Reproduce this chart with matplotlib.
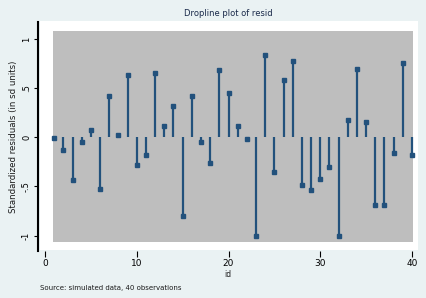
import matplotlib
matplotlib.use("Agg")
import matplotlib.pyplot as plt
from matplotlib.patches import Rectangle

# Data
t = list(range(1, 41))
values = [-0.01, -0.13, -0.43, -0.05, 0.08, -0.53, 0.42, 0.03, 0.64, -0.28,
          -0.18, 0.66, 0.12, 0.32, -0.80, 0.42, -0.05, -0.26, 0.69, 0.45,
          0.12, -0.02, -1.01, 0.84, -0.35, 0.59, 0.78, -0.48, -0.54, -0.42,
          -0.30, -1.00, 0.18, 0.70, 0.16, -0.69, -0.69, -0.16, 0.76, -0.18]
xticks = [0, 10, 20, 30, 40]
yticks = [-1, -0.5, 0, 0.5, 1]
yticklabels = ["-1", "-.5", "0", ".5", "1"]

W, H = 426, 298
fig = plt.figure(figsize=(W / 100, H / 100), dpi=100)
bg = "#EAF2F3"
fig.patch.set_facecolor(bg)

def fx(px):
    return px / W

def fy(py):
    return 1 - py / H

# axes occupying the outer plot region (white area), left spine is the y-axis line
ax_l, ax_r, ax_t, ax_b = 38, 418, 22, 251
ax = fig.add_axes([fx(ax_l), fy(ax_b), fx(ax_r) - fx(ax_l), fy(ax_t) - fy(ax_b)])
ax.set_facecolor("none")

# white outer region and gray inner region
ax.add_patch(Rectangle((fx(40), fy(250)), fx(418) - fx(40), fy(21) - fy(250),
                       transform=fig.transFigure, facecolor="white",
                       edgecolor="none", zorder=0, clip_on=False))
ax.add_patch(Rectangle((fx(53), fy(242)), fx(413) - fx(53), fy(31) - fy(242),
                       transform=fig.transFigure, facecolor="#BEBEBE",
                       edgecolor="none", zorder=0.5, clip_on=False))

# map data so that 0->x=45px, 40->x=412px; 0->y=137.5px, 98px per unit
pxu = (412 - 45) / 40.0
ax.set_xlim((ax_l - 45) / pxu, (ax_r - 45) / pxu)
ax.set_ylim((137.5 - ax_b) / 98.0, (137.5 - ax_t) / 98.0)

navy = "#22517C"
ax.vlines(t, 0, values, color=navy, linewidth=1.6, zorder=3)
ax.plot(t, values, linestyle="none", marker="s", markersize=2.3,
        color=navy, zorder=4)

for s in ["top", "right", "bottom"]:
    ax.spines[s].set_visible(False)
ax.spines["left"].set_color("black")
ax.spines["left"].set_linewidth(1.5)
ax.spines["left"].set_zorder(5)

ax.set_xticks(xticks)
ax.set_xticklabels([str(v) for v in xticks], fontsize=6.5)
ax.set_yticks(yticks)
ax.set_yticklabels(yticklabels, fontsize=6, rotation=90, va="center")
ax.tick_params(axis="x", length=4, width=0.8, pad=2, color="black")
ax.tick_params(axis="y", length=3, width=0.8, pad=2, color="black")

ax.set_xlabel("id", fontsize=5.5, labelpad=1, color="#1a1a1a")
ax.set_ylabel("Standardized residuals (in sd units)", fontsize=6.2,
              labelpad=3, color="#1a1a1a")

fig.text(fx(228), fy(14), "Dropline plot of resid", ha="center", va="center",
         fontsize=6, color="#1a2a4a")
fig.text(fx(40), fy(288), "Source: simulated data, 40 observations",
         ha="left", va="center", fontsize=5, color="#1a1a1a")

fig.savefig("out.png", dpi=100, facecolor=bg)
